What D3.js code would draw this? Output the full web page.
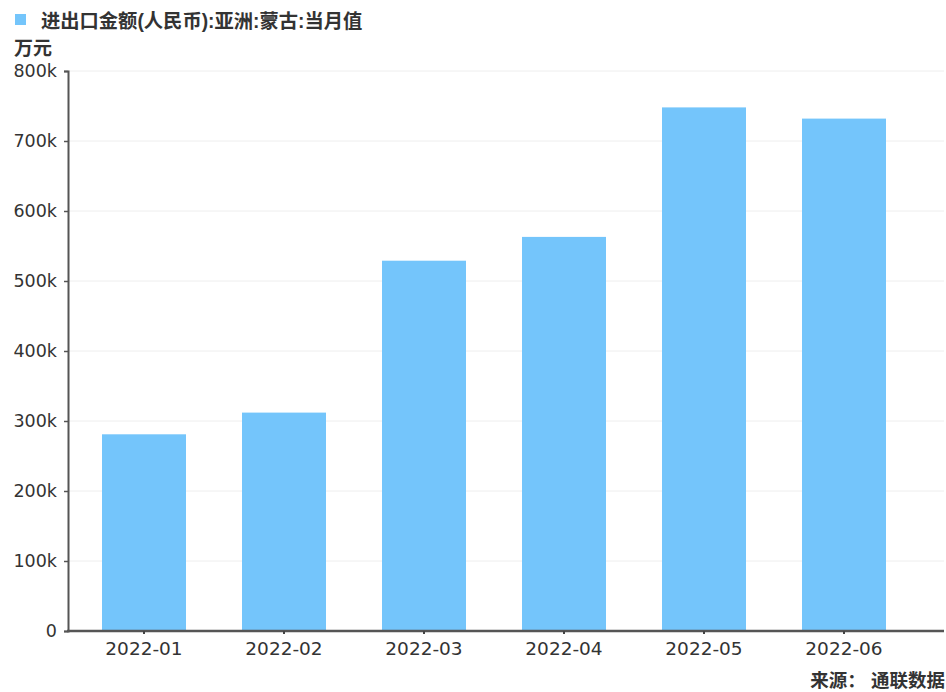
<!DOCTYPE html>
<html>
<head>
<meta charset="utf-8">
<script src="https://cdn.jsdelivr.net/npm/d3@7"></script>
<style>
  html, body { margin: 0; padding: 0; background: #fff; }
  svg text { font-family: "Liberation Sans", "Noto Sans CJK SC", sans-serif; fill: #333; }
  svg .tick text { font-family: "DejaVu Sans", sans-serif; }
</style>
</head>
<body>
<div id="chart"></div>
<script>
"use strict"

// data (unit: 万元)
const months = ["2022-01", "2022-02", "2022-03", "2022-04", "2022-05", "2022-06"];
const values = [281000, 312000, 529000, 563000, 748000, 732000];
const yTicks = [0, 100000, 200000, 300000, 400000, 500000, 600000, 700000, 800000];

const seriesName = "进出口金额(人民币):亚洲:蒙古:当月值";
const unitLabel = "万元";
const sourceLabel = "来源： 通联数据";

const W = 946, H = 692;
const plotLeft = 68, plotRight = 944, plotTop = 71, plotBottom = 631;

let svg = (
  d3.select('#chart')
    .append('svg')
    .attr('width', W)
    .attr('height', H));

let x = d3.scaleBand()
  .domain(months)
  .range([74, 914])
  .paddingInner(0.4)
  .paddingOuter(0.2);

let y = d3.scaleLinear()
  .domain([0, 800000])
  .range([plotBottom, plotTop]);

// grid lines
(svg.append('g')
  .selectAll('line')
    .data(yTicks.slice(1))
  .enter()
    .append('line')
      .attr('x1', plotLeft)
      .attr('x2', plotRight)
      .attr('y1', d => y(d))
      .attr('y2', d => y(d))
      .attr('stroke', '#eeeeee')
      .attr('stroke-width', 1));

// bars
(svg.append('g')
  .selectAll('rect')
    .data(values)
  .enter()
    .append('rect')
      .attr('x', (d, i) => x(months[i]))
      .attr('width', x.bandwidth())
      .attr('y', d => y(d))
      .attr('height', d => y(0) - y(d))
      .attr('fill', '#74c5fb'));

// y axis
let yAxis = svg.append('g')
  .attr('transform', `translate(${plotLeft},0)`)
  .call(d3.axisLeft(y)
    .tickValues(yTicks)
    .tickSize(4)
    .tickPadding(7)
    .tickFormat(d => d === 0 ? "0" : (d / 1000) + "k"));
yAxis.select('.domain').attr('stroke', '#555').attr('stroke-width', 2);
yAxis.selectAll('.tick line').attr('stroke', '#555').attr('stroke-width', 1.5);
yAxis.selectAll('.tick text').attr('font-size', 17.5).attr('fill', '#333');

// x axis
let xAxis = svg.append('g')
  .attr('transform', `translate(0,${plotBottom})`)
  .call(d3.axisBottom(x).tickSize(3).tickPadding(8));
xAxis.select('.domain').remove();
xAxis.insert('line', ':first-child')
  .attr('x1', plotLeft - 1)
  .attr('x2', plotRight)
  .attr('stroke', '#555')
  .attr('stroke-width', 2.5);
xAxis.selectAll('.tick line').attr('stroke', '#444').attr('stroke-width', 2);
xAxis.selectAll('.tick text').attr('font-size', 18.5).attr('fill', '#333');

// legend
svg.append('rect')
  .attr('x', 15).attr('y', 14)
  .attr('width', 11).attr('height', 11)
  .attr('fill', '#74c5fb');
svg.append('text')
  .attr('x', 41).attr('y', 28)
  .attr('font-size', 19.3)
  .attr('font-weight', 'bold')
  .text(seriesName);

// unit
svg.append('text')
  .attr('x', 14).attr('y', 55)
  .attr('font-size', 19)
  .attr('font-weight', 'bold')
  .text(unitLabel);

// source
svg.append('text')
  .attr('x', 945).attr('y', 687)
  .attr('text-anchor', 'end')
  .attr('font-size', 18.5)
  .attr('font-weight', 'bold')
  .text(sourceLabel);
</script>
</body>
</html>
